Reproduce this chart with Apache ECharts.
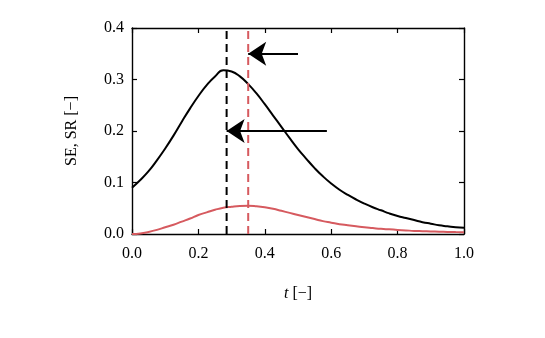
<!DOCTYPE html>
<html><head><meta charset="utf-8">
<script src="https://cdn.jsdelivr.net/npm/echarts@6/dist/echarts.min.js"></script>
<style>html,body{margin:0;padding:0;background:#fff}#c{width:545px;height:338px}</style>
</head><body><div id="c"></div>
<script>
const tValues = [0,0.025,0.05,0.075,0.10,0.125,0.15,0.175,0.20,0.225,0.25,0.275,0.30,0.325,0.35,0.375,0.40,0.425,0.45,0.475,0.50,
  0.525,0.55,0.575,0.60,0.625,0.65,0.675,0.70,0.725,0.75,0.775,0.80,0.825,0.85,0.875,0.90,0.925,0.95,0.975,1.0];
const seValues = [0.090,0.105,0.122,0.143,0.166,0.191,0.218,0.244,0.268,0.289,0.306,0.318,0.3155,0.306,0.291,0.273,0.252,0.230,0.208,0.186,0.165,
  0.146,0.128,0.112,0.098,0.086,0.076,0.067,0.059,0.052,0.046,0.040,0.035,0.031,0.027,0.023,0.020,0.017,0.015,0.013,0.012];
const srValues = [0.000,0.001,0.004,0.008,0.013,0.018,0.024,0.030,0.037,0.042,0.047,0.051,0.053,0.0545,0.055,0.054,0.052,0.049,0.045,0.041,0.037,
  0.033,0.029,0.025,0.022,0.019,0.017,0.015,0.013,0.0115,0.010,0.009,0.008,0.007,0.006,0.0055,0.005,0.0045,0.004,0.0037,0.0035];
const sePeakT = 0.285;
const srPeakT = 0.35;
const arrowUpper = [[0.5,0.35],[0.35,0.35]];
const arrowLower = [[0.587,0.2],[0.285,0.2]];

const RED = '#d65a5f';
const FONT = 'Liberation Serif';
const chart = echarts.init(document.getElementById('c'), null, {renderer:'canvas'});
const axisCommon = {
  axisLine:{show:true,onZero:false,lineStyle:{color:'#000',width:1.4}},
  axisTick:{show:true,inside:true,length:5,lineStyle:{color:'#000',width:1.2}},
  splitLine:{show:false}
};
chart.setOption({
  animation:false,
  grid:{left:132,right:81,top:28,bottom:104},
  xAxis:[
    Object.assign({type:'value',min:0,max:1,interval:0.2,position:'bottom',
      axisLabel:{color:'#000',fontFamily:FONT,fontSize:16,margin:12,formatter:v=>v.toFixed(1)},
      name:'{i|t} [−]',nameLocation:'middle',nameGap:52,
      nameTextStyle:{color:'#000',fontFamily:FONT,fontSize:16,rich:{i:{fontStyle:'italic',fontFamily:FONT,fontSize:16,color:'#000'}}}
    },axisCommon),
    Object.assign({type:'value',min:0,max:1,interval:0.2,position:'top',axisLabel:{show:false}},axisCommon)
  ],
  yAxis:[
    Object.assign({type:'value',min:0,max:0.4,interval:0.1,position:'left',
      axisLabel:{color:'#000',fontFamily:FONT,fontSize:16,margin:8,formatter:v=>v.toFixed(1)},
      name:'SE, SR [−]',nameLocation:'middle',nameGap:52,nameRotate:90,
      nameTextStyle:{color:'#000',fontFamily:FONT,fontSize:16}
    },axisCommon),
    Object.assign({type:'value',min:0,max:0.4,interval:0.1,position:'right',axisLabel:{show:false}},axisCommon)
  ],
  series:[
    {type:'line',data:tValues.map((t,i)=>[t,seValues[i]]),smooth:0.5,showSymbol:false,
      lineStyle:{color:'#000',width:2},z:3},
    {type:'line',data:tValues.map((t,i)=>[t,srValues[i]]),smooth:0.5,showSymbol:false,
      lineStyle:{color:RED,width:2},z:3},
    {type:'line',data:[[sePeakT,0],[sePeakT,0.4]],showSymbol:false,
      lineStyle:{color:'#000',width:2,type:[8,5]},z:4},
    {type:'line',data:[[srPeakT,0],[srPeakT,0.4]],showSymbol:false,
      lineStyle:{color:RED,width:2,type:[8,5]},z:4},
    {type:'lines',coordinateSystem:'cartesian2d',symbol:['none','arrow'],symbolSize:[12,18],
      lineStyle:{color:'#000',width:2,opacity:1},z:5,
      data:[{coords:arrowUpper},{coords:arrowLower}]}
  ]
});
</script></body></html>
